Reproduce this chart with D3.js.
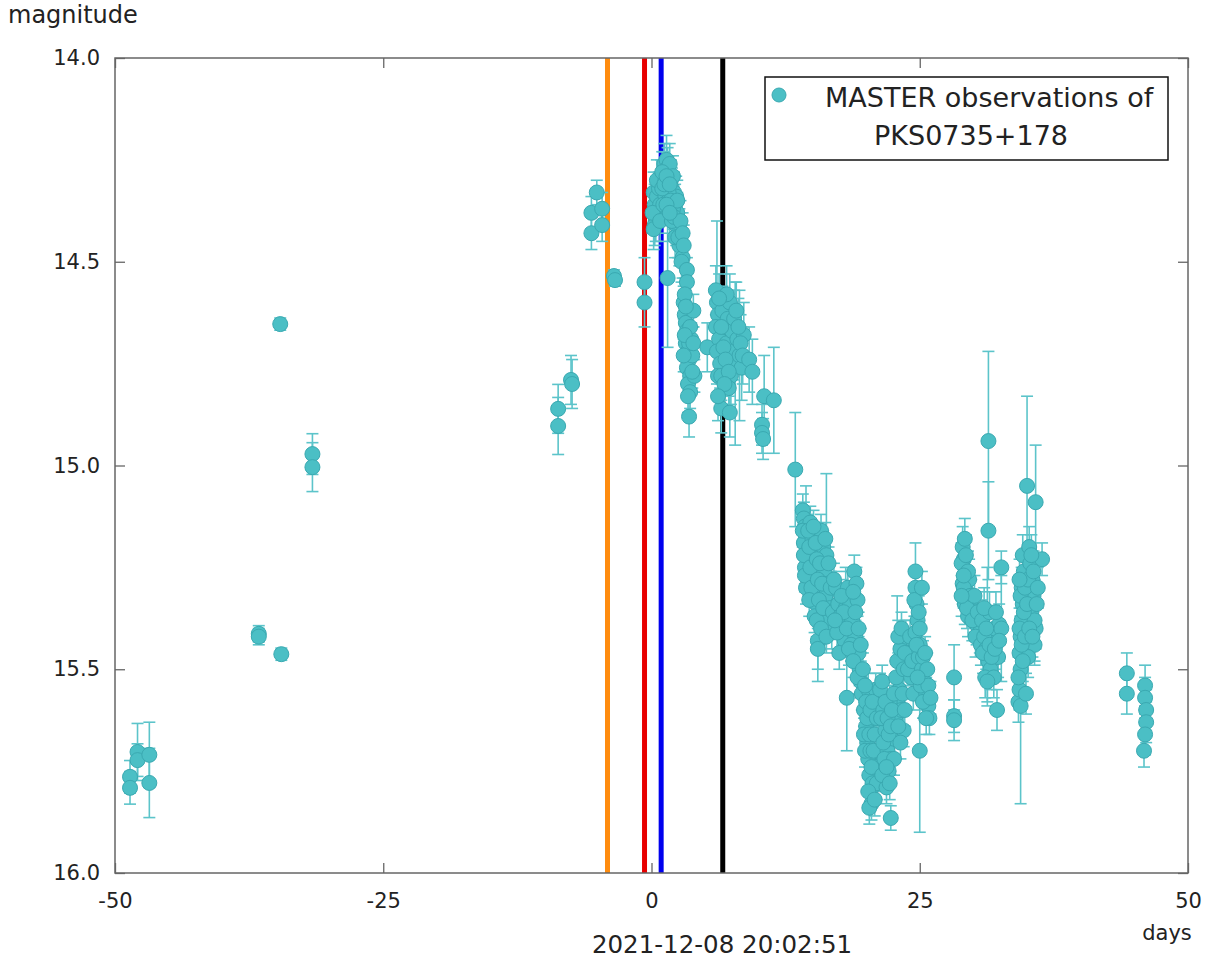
<!DOCTYPE html>
<html>
<head>
<meta charset="utf-8">
<script src="https://cdn.jsdelivr.net/npm/d3@7"></script>
<style>
  html, body { margin: 0; padding: 0; background: #fff; }
  svg { display: block; }
  text { font-family: "DejaVu Sans", sans-serif; fill: #222; }
</style>
</head>
<body>
<svg id="chart" width="1230" height="961"></svg>
<script>
// ---------- data ----------
const xDomain = [-50, 50];
const yDomain = [14.0, 16.0];
const xTicks = [-50, -25, 0, 25, 50];
const yTicks = [14.0, 14.5, 15.0, 15.5, 16.0];
const xLabel = "days";
const yLabel = "magnitude";
const epochLabel = "2021-12-08 20:02:51";
const legendLines = ["MASTER observations of", "PKS0735+178"];

// vertical event markers (days)
const eventDays = [-4.1, -0.65, 0.9, 6.64];
const eventColors = ["#ff8c0f", "#e80000", "#0000ee", "#000000"];

// observations: [day, magnitude, error]
const obs = [
  [-48.6, 15.764, 0.04], [-48.6, 15.791, 0.04],
  [-47.9, 15.703, 0.07], [-47.9, 15.723, 0.04],
  [-46.8, 15.710, 0.08], [-46.8, 15.779, 0.085],
  [-36.6, 15.413, 0.02], [-36.6, 15.420, 0.02],
  [-34.5, 15.463, 0.015],
  [-34.6, 14.653, 0.015],
  [-31.6, 14.972, 0.05], [-31.6, 15.004, 0.06],
  [-8.7, 14.861, 0.06], [-8.7, 14.903, 0.07],
  [-7.5, 14.790, 0.06], [-7.4, 14.800, 0.06],
  [-5.6, 14.380, 0.04], [-5.6, 14.430, 0.04],
  [-5.1, 14.330, 0.03],
  [-4.6, 14.370, 0.04], [-4.6, 14.410, 0.04],
  [-3.5, 14.535, 0.015], [-3.4, 14.545, 0.015],
  [-0.65, 14.550, 0.06], [-0.65, 14.600, 0.06],
  // night around day 0-1
  [0.2, 14.33, 0.05], [0.3, 14.36, 0.05], [0.4, 14.40, 0.05], [0.5, 14.34, 0.04],
  [0.3, 14.41, 0.05], [0.6, 14.38, 0.05], [0.7, 14.32, 0.04], [0.8, 14.36, 0.05],
  [0.9, 14.30, 0.05], [0.1, 14.38, 0.05], [0.2, 14.42, 0.05], [0.5, 14.30, 0.05],
  [0.8, 14.40, 0.05],
  // peak day 1-3
  [1.1, 14.28, 0.05], [1.2, 14.26, 0.05], [1.3, 14.30, 0.05], [1.4, 14.25, 0.06],
  [1.5, 14.27, 0.05], [1.6, 14.29, 0.05], [1.7, 14.26, 0.05], [1.8, 14.30, 0.05],
  [1.9, 14.32, 0.05], [2.0, 14.29, 0.05], [2.1, 14.33, 0.05], [2.2, 14.36, 0.05],
  [2.3, 14.34, 0.05], [2.4, 14.38, 0.05], [2.5, 14.40, 0.05], [2.6, 14.42, 0.05],
  [2.7, 14.44, 0.05], [2.8, 14.46, 0.05], [1.3, 14.34, 0.05], [1.6, 14.33, 0.05],
  [2.0, 14.37, 0.05], [2.3, 14.41, 0.05], [2.6, 14.46, 0.05], [1.0, 14.32, 0.05],
  [1.1, 14.36, 0.05], [1.9, 14.40, 0.05], [2.2, 14.44, 0.05],
  [1.0, 14.28, 0.05], [1.2, 14.31, 0.05], [1.4, 14.29, 0.05], [1.7, 14.31, 0.05],
  [1.8, 14.35, 0.05], [2.1, 14.39, 0.05], [2.4, 14.35, 0.05], [2.5, 14.44, 0.05],
  [2.7, 14.40, 0.05], [2.9, 14.43, 0.05], [2.9, 14.49, 0.05], [3.0, 14.46, 0.05],
  [2.8, 14.50, 0.05], [1.4, 14.36, 0.05], [1.7, 14.38, 0.05],
  [1.5, 14.54, 0.17],
  // decline day 3-4
  [3.3, 14.52, 0.03], [3.3, 14.55, 0.03], [3.0, 14.60, 0.04], [3.1, 14.63, 0.04],
  [3.2, 14.65, 0.04], [3.3, 14.67, 0.04], [3.2, 14.70, 0.04], [3.4, 14.72, 0.04],
  [3.5, 14.74, 0.04], [3.3, 14.76, 0.04], [3.6, 14.78, 0.04], [3.4, 14.80, 0.04],
  [3.7, 14.69, 0.04], [3.8, 14.73, 0.04], [3.5, 14.88, 0.05], [4.0, 14.78, 0.04],
  [3.9, 14.62, 0.04], [3.1, 14.58, 0.04], [3.2, 14.61, 0.04], [3.6, 14.66, 0.04],
  [3.5, 14.70, 0.04], [3.1, 14.68, 0.04], [3.0, 14.73, 0.04], [3.8, 14.77, 0.04],
  [3.6, 14.82, 0.04], [3.4, 14.83, 0.04], [3.9, 14.70, 0.04],
  [5.2, 14.71, 0.06],
  // day 6-9
  [6.0, 14.57, 0.06], [6.1, 14.60, 0.2], [6.2, 14.63, 0.06], [6.0, 14.66, 0.06],
  [6.3, 14.69, 0.06], [6.1, 14.72, 0.06], [6.4, 14.75, 0.06], [6.2, 14.78, 0.06],
  [6.6, 14.62, 0.06], [6.8, 14.66, 0.06], [7.0, 14.70, 0.06], [7.1, 14.64, 0.07],
  [7.3, 14.60, 0.07], [7.5, 14.67, 0.07], [7.6, 14.72, 0.07], [7.8, 14.75, 0.2],
  [7.4, 14.78, 0.07], [8.0, 14.69, 0.07], [8.2, 14.73, 0.16], [8.4, 14.76, 0.08],
  [7.0, 14.58, 0.07], [6.5, 14.86, 0.06], [7.3, 14.87, 0.06], [8.6, 14.68, 0.08],
  [6.3, 14.59, 0.06], [6.5, 14.66, 0.06], [6.7, 14.71, 0.06], [6.9, 14.74, 0.06],
  [6.5, 14.78, 0.06], [7.2, 14.77, 0.06], [7.7, 14.64, 0.07], [7.9, 14.62, 0.07],
  [8.1, 14.66, 0.07], [8.3, 14.70, 0.07], [8.5, 14.73, 0.07], [7.2, 14.81, 0.06],
  [6.8, 14.80, 0.06], [6.2, 14.83, 0.06],
  [9.1, 14.74, 0.08], [9.4, 14.77, 0.08], [10.5, 14.83, 0.1], [11.4, 14.84, 0.13],
  [10.3, 14.90, 0.05], [10.3, 14.92, 0.05], [10.4, 14.935, 0.05],
  [13.4, 15.01, 0.14],
  // day 14-17
  [14.1, 15.11, 0.04], [14.2, 15.13, 0.04], [14.3, 15.15, 0.04], [14.4, 15.18, 0.13],
  [14.2, 15.19, 0.04], [14.5, 15.22, 0.04], [14.3, 15.25, 0.04], [14.6, 15.28, 0.04],
  [14.4, 15.30, 0.04],
  [14.8, 15.14, 0.04], [15.0, 15.18, 0.04], [15.1, 15.21, 0.04], [15.2, 15.24, 0.04],
  [15.0, 15.27, 0.04], [15.3, 15.31, 0.04], [15.4, 15.34, 0.04], [15.2, 15.37, 0.04],
  [15.5, 15.43, 0.1], [15.5, 15.45, 0.05],
  [15.8, 15.16, 0.04], [16.0, 15.20, 0.04], [16.3, 15.22, 0.2], [16.1, 15.26, 0.04],
  [16.4, 15.29, 0.04], [16.2, 15.32, 0.04], [16.6, 15.35, 0.04], [16.5, 15.38, 0.04],
  [16.8, 15.41, 0.04],
  [14.1, 15.16, 0.04], [14.2, 15.22, 0.04], [14.3, 15.27, 0.04], [14.6, 15.16, 0.04],
  [14.7, 15.20, 0.04], [14.8, 15.25, 0.04], [14.9, 15.30, 0.04], [14.7, 15.33, 0.04],
  [15.1, 15.15, 0.04], [15.3, 15.19, 0.04], [15.4, 15.23, 0.04], [15.5, 15.28, 0.04],
  [15.6, 15.33, 0.04], [15.4, 15.38, 0.04], [15.7, 15.24, 0.04], [15.9, 15.29, 0.04],
  [16.0, 15.35, 0.04], [15.8, 15.40, 0.04], [16.2, 15.18, 0.04], [16.5, 15.24, 0.04],
  [16.7, 15.30, 0.04], [16.9, 15.36, 0.04], [16.3, 15.42, 0.04],
  // day 17-19.6
  [17.2, 15.30, 0.04], [17.4, 15.34, 0.04], [17.6, 15.37, 0.04], [17.8, 15.40, 0.04],
  [18.0, 15.43, 0.04], [17.5, 15.46, 0.04], [18.1, 15.35, 0.1],
  [18.3, 15.30, 0.04], [18.5, 15.34, 0.04], [18.7, 15.38, 0.04], [18.9, 15.26, 0.04],
  [19.1, 15.29, 0.04], [19.2, 15.33, 0.04], [19.0, 15.42, 0.04], [19.3, 15.46, 0.04],
  [19.4, 15.50, 0.04], [18.6, 15.44, 0.04], [18.2, 15.57, 0.13], [19.5, 15.53, 0.04],
  [17.0, 15.28, 0.04], [17.3, 15.41, 0.04], [17.7, 15.32, 0.04], [17.9, 15.36, 0.04],
  [18.2, 15.40, 0.04], [18.4, 15.45, 0.04], [18.8, 15.48, 0.04], [19.0, 15.36, 0.04],
  [19.3, 15.40, 0.04], [19.5, 15.44, 0.04], [18.8, 15.31, 0.04], [19.2, 15.52, 0.04],
  [17.1, 15.38, 0.04],
  // minimum day 19.5-21.2
  [19.6, 15.56, 0.04], [19.8, 15.60, 0.04], [20.0, 15.64, 0.04], [20.1, 15.68, 0.04],
  [20.2, 15.72, 0.04], [20.3, 15.76, 0.04], [20.4, 15.80, 0.04], [20.5, 15.83, 0.04],
  [20.7, 15.78, 0.04], [20.9, 15.74, 0.04], [21.0, 15.70, 0.04], [20.6, 15.66, 0.04],
  [20.8, 15.62, 0.04], [21.1, 15.58, 0.04], [20.2, 15.55, 0.04], [20.9, 15.55, 0.04],
  [19.7, 15.50, 0.04], [19.9, 15.54, 0.04], [20.0, 15.58, 0.04], [19.8, 15.66, 0.04],
  [19.9, 15.70, 0.04], [20.1, 15.62, 0.04], [20.3, 15.66, 0.04], [20.4, 15.70, 0.04],
  [20.5, 15.74, 0.04], [20.6, 15.78, 0.04], [20.4, 15.60, 0.04], [20.6, 15.58, 0.04],
  [20.7, 15.70, 0.04], [20.8, 15.66, 0.04], [21.0, 15.62, 0.04], [21.0, 15.78, 0.04],
  [20.2, 15.80, 0.04], [20.3, 15.84, 0.04], [20.8, 15.82, 0.04],
  [22.3, 15.865, 0.03],
  // day 21.2-24
  [21.3, 15.55, 0.04], [21.5, 15.53, 0.04], [21.6, 15.60, 0.04], [21.8, 15.65, 0.04],
  [22.0, 15.70, 0.04], [22.1, 15.75, 0.04], [21.9, 15.79, 0.04], [22.3, 15.72, 0.04],
  [22.5, 15.67, 0.04], [22.7, 15.62, 0.04], [22.9, 15.58, 0.04], [23.1, 15.55, 0.04],
  [23.3, 15.60, 0.04], [23.5, 15.65, 0.04], [22.2, 15.58, 0.04],
  [21.4, 15.62, 0.04], [21.6, 15.68, 0.04], [21.7, 15.72, 0.04], [21.8, 15.58, 0.04],
  [22.0, 15.62, 0.04], [22.1, 15.66, 0.04], [22.3, 15.64, 0.04], [22.4, 15.60, 0.04],
  [22.6, 15.56, 0.04], [22.6, 15.72, 0.04], [22.8, 15.52, 0.04], [23.0, 15.64, 0.04],
  [23.2, 15.68, 0.04], [23.4, 15.56, 0.04], [23.6, 15.60, 0.04], [21.5, 15.76, 0.04],
  [21.9, 15.74, 0.04], [22.2, 15.78, 0.04],
  [22.9, 15.48, 0.16], [23.2, 15.45, 0.04], [23.5, 15.50, 0.04], [23.7, 15.42, 0.04],
  [24.0, 15.46, 0.04], [24.2, 15.52, 0.04],
  [23.0, 15.42, 0.04], [23.3, 15.40, 0.04], [23.6, 15.46, 0.04], [23.9, 15.50, 0.04],
  [24.1, 15.42, 0.04], [24.3, 15.48, 0.04], [24.4, 15.56, 0.04],
  // day 24.5-26
  [24.6, 15.26, 0.07], [24.6, 15.30, 0.04], [24.7, 15.34, 0.04], [24.8, 15.38, 0.04],
  [24.6, 15.41, 0.04], [25.0, 15.44, 0.04], [24.9, 15.47, 0.04], [25.2, 15.50, 0.04],
  [25.4, 15.53, 0.04], [25.6, 15.56, 0.04], [25.8, 15.59, 0.04], [25.9, 15.62, 0.04],
  [25.3, 15.47, 0.04], [25.7, 15.50, 0.04], [25.0, 15.70, 0.2],
  [24.5, 15.33, 0.04], [24.7, 15.44, 0.04], [24.9, 15.36, 0.04], [25.0, 15.40, 0.04],
  [25.1, 15.54, 0.04], [25.3, 15.58, 0.04], [25.5, 15.46, 0.04], [25.6, 15.62, 0.04],
  [25.8, 15.54, 0.04], [26.0, 15.57, 0.04], [24.8, 15.52, 0.04], [25.2, 15.30, 0.04],
  // day 28-33
  [28.2, 15.52, 0.08], [28.2, 15.615, 0.04], [28.2, 15.625, 0.05],
  [29.0, 15.20, 0.05], [29.2, 15.18, 0.05], [29.1, 15.23, 0.05], [29.3, 15.26, 0.05],
  [29.0, 15.29, 0.05], [29.4, 15.31, 0.05], [29.2, 15.34, 0.05], [29.5, 15.37, 0.05],
  [29.8, 15.33, 0.05], [30.0, 15.36, 0.05], [30.3, 15.39, 0.05], [30.6, 15.41, 0.05],
  [29.6, 15.28, 0.05],
  [28.9, 15.24, 0.05], [29.1, 15.30, 0.05], [29.3, 15.22, 0.05], [29.5, 15.26, 0.05],
  [29.7, 15.32, 0.05], [29.4, 15.35, 0.05], [29.9, 15.38, 0.05], [30.1, 15.32, 0.05],
  [30.2, 15.42, 0.05], [30.4, 15.36, 0.05], [30.7, 15.44, 0.05], [29.1, 15.27, 0.05],
  [28.9, 15.32, 0.05],
  [31.4, 14.94, 0.22], [31.4, 15.16, 0.12], [31.3, 15.42, 0.17],
  [30.8, 15.38, 0.05], [31.0, 15.42, 0.05], [31.2, 15.45, 0.05], [31.4, 15.48, 0.05],
  [31.6, 15.50, 0.05], [31.1, 15.52, 0.05], [31.8, 15.44, 0.05], [32.0, 15.40, 0.05],
  [32.4, 15.39, 0.05], [32.6, 15.25, 0.04], [32.6, 15.40, 0.13], [32.2, 15.60, 0.05],
  [32.3, 15.47, 0.05], [31.5, 15.36, 0.05],
  [30.9, 15.46, 0.05], [31.0, 15.35, 0.05], [31.2, 15.40, 0.05], [31.5, 15.44, 0.05],
  [31.7, 15.47, 0.05], [31.9, 15.52, 0.05], [32.0, 15.45, 0.05], [32.1, 15.36, 0.05],
  [31.3, 15.53, 0.05], [32.4, 15.43, 0.05],
  // day 34-36.5
  [34.2, 15.58, 0.05], [34.3, 15.55, 0.05], [34.4, 15.50, 0.05], [34.3, 15.46, 0.05],
  [34.4, 15.42, 0.05], [34.5, 15.38, 0.05], [34.6, 15.34, 0.05], [34.5, 15.30, 0.05],
  [34.7, 15.26, 0.05], [34.6, 15.22, 0.05], [34.4, 15.59, 0.24], [34.9, 15.56, 0.05],
  [35.0, 15.05, 0.22], [35.8, 15.09, 0.14],
  [35.2, 15.20, 0.05], [35.3, 15.24, 0.05], [35.5, 15.28, 0.05], [35.6, 15.32, 0.05],
  [35.4, 15.36, 0.05], [35.8, 15.40, 0.05], [35.7, 15.38, 0.1], [35.7, 15.44, 0.05],
  [35.1, 15.47, 0.05], [36.4, 15.23, 0.04],
  [34.2, 15.52, 0.05], [34.3, 15.40, 0.05], [34.4, 15.32, 0.05], [34.5, 15.44, 0.05],
  [34.6, 15.48, 0.05], [34.7, 15.36, 0.05], [34.8, 15.30, 0.05], [34.8, 15.42, 0.05],
  [35.0, 15.34, 0.05], [35.1, 15.28, 0.05], [35.2, 15.40, 0.05], [35.4, 15.22, 0.05],
  [35.5, 15.42, 0.05], [35.6, 15.26, 0.05], [35.9, 15.34, 0.05], [36.0, 15.30, 0.05],
  [34.3, 15.28, 0.05],
  // day 44-46
  [44.3, 15.51, 0.05], [44.3, 15.56, 0.05],
  [46.0, 15.54, 0.05], [46.0, 15.57, 0.05], [46.1, 15.60, 0.05], [46.1, 15.63, 0.05],
  [46.0, 15.66, 0.05], [45.9, 15.70, 0.04]
];

// ---------- drawing ----------
const svg = d3.select("#chart");
const L = 115, R = 1188, T = 58, B = 873;
const x = d3.scaleLinear().domain(xDomain).range([L, R]);
const y = d3.scaleLinear().domain(yDomain).range([T, B]);

const ptFill = "#4bbfc5", ptStroke = "#3aa9b1", barColor = "#5cc4ca";

// event lines
svg.append("g").selectAll("line").data(eventDays).join("line")
  .attr("x1", d => x(d)).attr("x2", d => x(d))
  .attr("y1", T).attr("y2", B)
  .attr("stroke", (d, i) => eventColors[i])
  .attr("stroke-width", 5);

// axes
const fmtX = d => String(d);
const fmtY = d3.format(".1f");
const axisStyle = g => {
  g.select(".domain").remove();
  g.selectAll(".tick line").attr("stroke", "#666").attr("stroke-width", 1.3);
  g.selectAll(".tick text").attr("font-family", "DejaVu Sans").attr("font-size", 21).attr("fill", "#222");
};
svg.append("g").attr("transform", `translate(0,${B})`)
  .call(d3.axisBottom(x).tickValues(xTicks).tickFormat(fmtX).tickSizeInner(-10).tickSizeOuter(0).tickPadding(20))
  .call(axisStyle);
svg.append("g").attr("transform", `translate(0,${T})`)
  .call(d3.axisTop(x).tickValues(xTicks).tickFormat("").tickSizeInner(-10).tickSizeOuter(0))
  .call(axisStyle);
svg.append("g").attr("transform", `translate(${L},0)`)
  .call(d3.axisLeft(y).tickValues(yTicks).tickFormat(fmtY).tickSizeInner(-10).tickSizeOuter(0).tickPadding(15))
  .call(axisStyle);
svg.append("g").attr("transform", `translate(${R},0)`)
  .call(d3.axisRight(y).tickValues(yTicks).tickFormat("").tickSizeInner(-10).tickSizeOuter(0))
  .call(axisStyle);

// frame
svg.append("rect").attr("x", L).attr("y", T).attr("width", R - L).attr("height", B - T)
  .attr("fill", "none").attr("stroke", "#666").attr("stroke-width", 1.5);

// error bars
const eb = svg.append("g").attr("stroke", barColor).attr("stroke-width", 1.6).attr("fill", "none");
eb.selectAll("line.v").data(obs).join("line").attr("class", "v")
  .attr("x1", d => x(d[0])).attr("x2", d => x(d[0]))
  .attr("y1", d => y(d[1] - d[2])).attr("y2", d => y(d[1] + d[2]));
eb.selectAll("line.t").data(obs).join("line").attr("class", "t")
  .attr("x1", d => x(d[0]) - 6).attr("x2", d => x(d[0]) + 6)
  .attr("y1", d => y(d[1] - d[2])).attr("y2", d => y(d[1] - d[2]));
eb.selectAll("line.b").data(obs).join("line").attr("class", "b")
  .attr("x1", d => x(d[0]) - 6).attr("x2", d => x(d[0]) + 6)
  .attr("y1", d => y(d[1] + d[2])).attr("y2", d => y(d[1] + d[2]));

// points
svg.append("g").selectAll("circle").data(obs).join("circle")
  .attr("cx", d => x(d[0])).attr("cy", d => y(d[1])).attr("r", 7.5)
  .attr("fill", ptFill).attr("stroke", ptStroke).attr("stroke-width", 1);

// axis titles
svg.append("text").attr("x", 8).attr("y", 23).attr("font-size", 24).text(yLabel);
svg.append("text").attr("x", 722).attr("y", 953).attr("text-anchor", "middle").attr("font-size", 24.5).text(epochLabel);
svg.append("text").attr("x", 1167).attr("y", 940).attr("text-anchor", "middle").attr("font-size", 21).text(xLabel);

// legend
const lg = svg.append("g");
lg.append("rect").attr("x", 765).attr("y", 77).attr("width", 403).attr("height", 83)
  .attr("fill", "#fff").attr("stroke", "#111").attr("stroke-width", 1.5);
lg.append("circle").attr("cx", 779).attr("cy", 95).attr("r", 7)
  .attr("fill", ptFill).attr("stroke", ptStroke);
lg.append("text").attr("x", 825).attr("y", 107).attr("font-size", 27).text(legendLines[0]);
lg.append("text").attr("x", 971).attr("y", 145).attr("text-anchor", "middle").attr("font-size", 27).text(legendLines[1]);
</script>
</body>
</html>
